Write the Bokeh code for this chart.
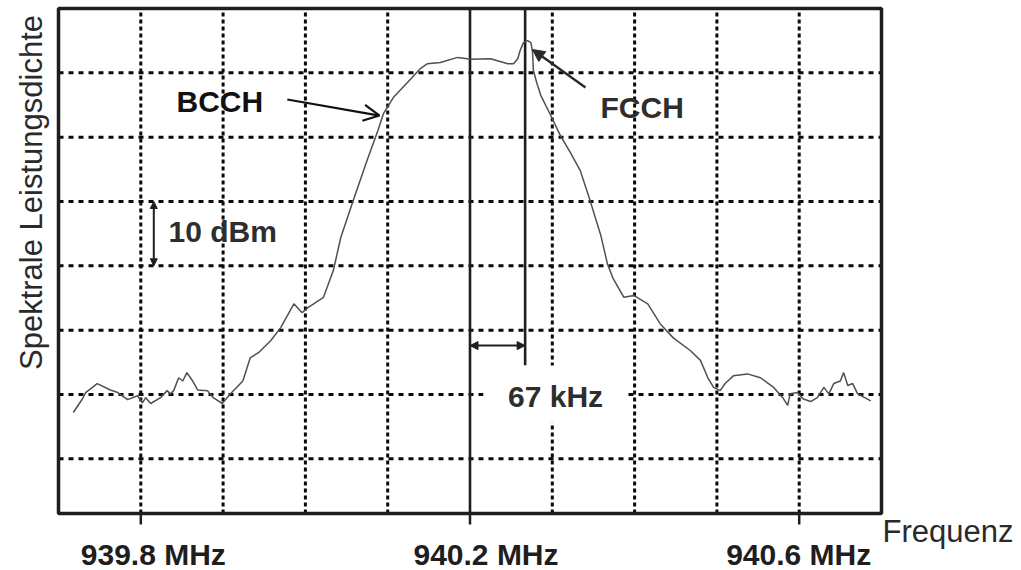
from bokeh.plotting import figure
from bokeh.models import Range1d, Label, Arrow, OpenHead, NormalHead
from bokeh.core.properties import value
from bokeh.embed import file_html
from bokeh.resources import INLINE

# Measured spectrum of a GSM carrier (BCCH) with the FCCH burst line
freq_mhz = [
    939.718, 939.729, 939.733, 939.747, 939.763, 939.772, 939.784, 939.796, 939.802, 939.806,
    939.812, 939.824, 939.832, 939.836, 939.840, 939.846, 939.851, 939.856, 939.863, 939.869,
    939.881, 939.888, 939.899, 939.909, 939.924, 939.933, 939.943, 939.958, 939.970, 939.986,
    939.996, 940.003, 940.022, 940.034, 940.043, 940.058, 940.075, 940.088, 940.095, 940.107,
    940.124, 940.140, 940.148, 940.164, 940.185, 940.201, 940.225, 940.246, 940.253, 940.258,
    940.261, 940.265, 940.270, 940.274, 940.276, 940.277, 940.281, 940.286, 940.298, 940.310,
    940.322, 940.334, 940.346, 940.359, 940.367, 940.374, 940.387, 940.399, 940.416, 940.431,
    940.447, 940.468, 940.480, 940.489, 940.496, 940.504, 940.510, 940.520, 940.537, 940.553,
    940.569, 940.580, 940.586, 940.589, 940.598, 940.605, 940.614, 940.622, 940.630, 940.636,
    940.642, 940.650, 940.654, 940.659, 940.665, 940.671, 940.687,
]
level_db = [
    -62.8, -60.7, -59.7, -58.3, -59.3, -59.7, -60.8, -60.2, -61.3, -60.5,
    -61.4, -60.5, -59.4, -59.9, -59.4, -57.4, -57.9, -56.6, -57.9, -59.3,
    -59.4, -60.5, -61.4, -59.9, -57.9, -54.3, -53.5, -51.6, -49.6, -45.9,
    -47.3, -46.5, -44.9, -40.7, -35.6, -29.9, -23.6, -19.0, -16.3, -13.8,
    -11.5, -9.3, -8.6, -8.4, -7.6, -7.9, -7.8, -8.6, -8.6, -7.8,
    -6.5, -5.3, -5.0, -5.3, -6.8, -9.6, -11.5, -13.5, -16.6, -19.8,
    -22.4, -25.2, -29.9, -35.3, -39.7, -42.0, -44.9, -44.6, -45.9, -49.0,
    -51.2, -53.2, -54.7, -57.4, -58.9, -59.4, -58.3, -57.1, -56.8, -57.4,
    -58.9, -60.5, -61.7, -59.9, -59.7, -60.7, -61.1, -60.5, -58.9, -59.9,
    -58.3, -57.9, -56.6, -58.6, -58.3, -59.9, -61.0,
]

tick_freqs = [939.8, 940.2, 940.6]
tick_labels = [f"{f:.1f} MHz" for f in tick_freqs]
grid_freqs = [939.8, 939.9, 940.0, 940.1, 940.3, 940.4, 940.5, 940.6]
grid_levels = [-10, -20, -30, -40, -50, -60, -70]

carrier_mhz = 940.2
fcch_offset_khz = 67
scale_step_db = 10

# screen-area of the analyser display
x_lo, x_hi = 939.7, 940.7
y_lo, y_hi = -78.5, 0.0
W, H = 1021, 570
FRAME_LEFT, FRAME_TOP, FRAME_W, FRAME_H = 58, 8, 823, 505
mhz_px = (x_hi - x_lo) / FRAME_W
db_px = (y_hi - y_lo) / FRAME_H
# the texts sit this much lower than their alphabetic anchor; lift them back
TEXT_LIFT = 11.5
# horizontal nudge of each tick caption relative to its tick, in pixels
TICK_NUDGE = [12.5, 16.0, -0.5]

FONT = "Liberation Sans"
INK = "#1e1e1e"
GRID = "#0a0a0a"

# the whole canvas is one data space so the surrounding captions can share it
p = figure(width=W, height=H, output_backend="svg", toolbar_location=None,
           x_range=Range1d(x_lo - FRAME_LEFT * mhz_px, x_hi + (W - FRAME_LEFT - FRAME_W) * mhz_px),
           y_range=Range1d(y_lo - (H - FRAME_TOP - FRAME_H) * db_px, y_hi + FRAME_TOP * db_px),
           x_axis_location=None, y_axis_location=None, min_border=0)
p.background_fill_color = "white"
p.border_fill_color = "white"
p.outline_line_color = None
p.xgrid.visible = False
p.ygrid.visible = False

# dotted measurement grid
p.segment(x0=grid_freqs, y0=[y_lo] * len(grid_freqs), x1=grid_freqs, y1=[y_hi] * len(grid_freqs),
          line_color=GRID, line_width=3, line_dash="4 3")
p.segment(x0=[x_lo] * len(grid_levels), y0=grid_levels, x1=[x_hi] * len(grid_levels), y1=grid_levels,
          line_color=GRID, line_width=3, line_dash="5 5")

fcch_mhz = carrier_mhz + fcch_offset_khz / 1000.0

# carrier centre marker and FCCH marker
label_top = -55.5
p.segment(x0=[carrier_mhz, fcch_mhz], y0=[y_lo, label_top], x1=[carrier_mhz, fcch_mhz], y1=[y_hi, y_hi],
          line_color=INK, line_width=2.6)

# white box behind the spacing label
p.quad(left=[940.2164], right=[940.3914], bottom=[-64.4], top=[label_top],
       fill_color="white", line_color=None)

# spectrum trace
p.line(freq_mhz, level_db, line_color="#505050", line_width=1.5)

# display frame and the three labelled ticks below it
p.quad(left=[x_lo], right=[x_hi], bottom=[y_lo], top=[y_hi], fill_color=None,
       line_color=INK, line_width=3.5)
tick_len = 11 * db_px
p.segment(x0=tick_freqs, y0=[y_lo] * 3, x1=tick_freqs, y1=[y_lo - tick_len] * 3,
          line_color=INK, line_width=2.5)
p.text(x=[f + n * mhz_px for f, n in zip(tick_freqs, TICK_NUDGE)],
       y=[y_lo - (52 - TEXT_LIFT) * db_px] * 3, text=tick_labels,
       text_font=value(FONT), text_font_size="30px", text_font_style="bold",
       text_align="center", text_baseline="alphabetic", text_color=INK)

# 67 kHz spacing arrow
p.add_layout(Arrow(x_start=carrier_mhz, y_start=-52.4, x_end=fcch_mhz, y_end=-52.4,
                   line_width=2, line_color=INK,
                   start=NormalHead(size=8, fill_color=INK, line_color=INK),
                   end=NormalHead(size=8, fill_color=INK, line_color=INK)))

# 10 dBm scale arrow
p.add_layout(Arrow(x_start=939.8158, y_start=-30, x_end=939.8158, y_end=-30 - scale_step_db,
                   line_width=2, line_color=INK,
                   start=NormalHead(size=7, fill_color=INK, line_color=INK),
                   end=NormalHead(size=7, fill_color=INK, line_color=INK)))

# BCCH pointer
p.add_layout(Arrow(x_start=939.978, y_start=-14.15, x_end=940.090, y_end=-16.64,
                   line_width=2.2, line_color="#111111",
                   end=OpenHead(size=16, line_width=2.2, line_color="#111111")))

# FCCH pointer
p.add_layout(Arrow(x_start=940.3403, y_start=-12.29, x_end=940.2759, y_end=-6.38,
                   line_width=2.4, line_color="#2a2a2a",
                   end=NormalHead(size=12, fill_color="#2a2a2a", line_color="#2a2a2a")))


def add_text(x, y, text, style="bold", align="left", vertical=False, color=INK, size=30):
    lift = TEXT_LIFT * size / 30.0
    if vertical:
        x = x - lift * mhz_px
    else:
        y = y + lift * db_px
    p.add_layout(Label(x=x, y=y, text=text, text_font=FONT, text_font_size=f"{size}px",
                       text_font_style=style, text_align=align, text_baseline="alphabetic",
                       angle=1.5707963 if vertical else 0.0, text_color=color))


add_text(939.8434, -16.17, "BCCH", color="#111111")
add_text(940.3586, -17.1, "FCCH", color="#2e2e2e")
add_text(939.8337, -36.4, f"{scale_step_db} dBm", color="#2e2e2e")
add_text(940.304, -62.05, f"{fcch_offset_khz} kHz", align="center", color="#2e2e2e")

# axis captions
add_text(x_hi + 1 * mhz_px, y_lo - 30 * db_px, "Frequenz", style="normal", color="#2a2a2a", size=31)
add_text(x_lo - 15 * mhz_px, -28.6, "Spektrale Leistungsdichte", style="normal", align="center",
         vertical=True, color="#2a2a2a", size=31)

open("out.html", "w").write(file_html(p, INLINE))
